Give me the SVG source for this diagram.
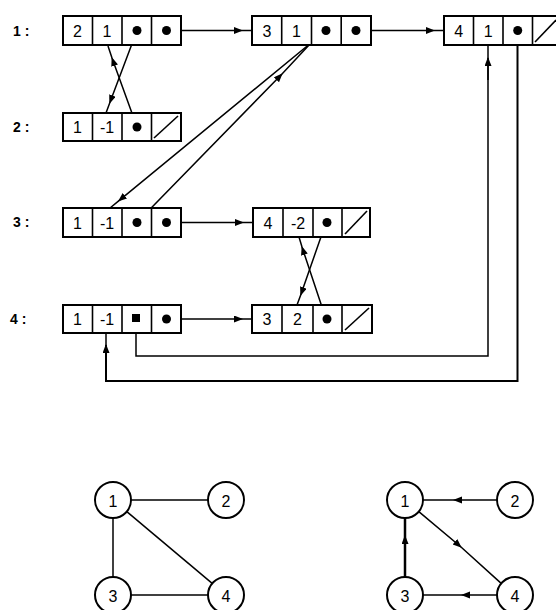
<svg xmlns="http://www.w3.org/2000/svg" width="556" height="610" viewBox="0 0 556 610">
<style>
.box{fill:#fff;stroke:#000;stroke-width:2}
.div{stroke:#000;stroke-width:1.6}
.t{font-family:"Liberation Sans",Arial,sans-serif;font-size:16px;fill:#000;text-anchor:middle;dominant-baseline:central}
.lbl{font-family:"Liberation Sans",Arial,sans-serif;font-size:14px;fill:#000;font-weight:bold}
.dot{fill:#000}
.con{fill:none;stroke:#000;stroke-width:1.5}
.arr{fill:none;stroke:#000;stroke-width:1.5;marker-mid:url(#ah)}
.circ{fill:#fff;stroke:#000;stroke-width:2}
.edge{fill:none;stroke:#000;stroke-width:1.5}
</style>
<defs>
<marker id="ah" markerUnits="userSpaceOnUse" markerWidth="12" markerHeight="10" refX="8" refY="3.5" orient="auto">
<path d="M0,0 L9,3.5 L0,7 Z" fill="#000"/>
</marker>
</defs>

<g id="labels">
<text class="lbl" x="13" y="36">1 :</text>
<text class="lbl" x="13" y="132">2 :</text>
<text class="lbl" x="13" y="227">3 :</text>
<text class="lbl" x="10" y="324">4 :</text>
</g>

<g id="connectors">
<path class="arr" d="M166.5 30.5 L242 30.5 L252 30.5"/>
<path class="arr" d="M356 30.5 L434 30.5 L444 30.5"/>
<path class="arr" d="M137 30.5 L109.7 103 L106 113"/>
<path class="arr" d="M137 127 L112 58 L108 46"/>
<path class="arr" d="M326 30.5 L118.7 200.9 L110 208"/>
<path class="arr" d="M137 222.5 L282 74 L310 44"/>
<path class="arr" d="M166.5 222.5 L243 222.5 L253 222.5"/>
<path class="arr" d="M326 222.5 L300.7 295 L297 305"/>
<path class="arr" d="M326 319 L302 247 L299 237"/>
<path class="arr" d="M166.5 319 L242 319 L252 319"/>
<path class="con" style="stroke-width:2" d="M517.5 30.5 V381 H106 V345"/>
<path class="arr" d="M106 360 L106 345 L106 333"/>
<path class="con" d="M136 319 V356 H488 V58"/>
<path class="arr" d="M488 80 L488 58 L488 46"/>
</g>

<g id="n1a">
<rect class="box" x="63" y="16" width="118" height="29"/>
<path class="div" d="M92.5 16 V45 M122 16 V45 M151.5 16 V45"/>
<text class="t" x="77.5" y="31">2</text>
<text class="t" x="107" y="31">1</text>
<circle class="dot" cx="137" cy="30.5" r="4.5"/>
<circle class="dot" cx="166.5" cy="30.5" r="4.5"/>
</g>
<g id="n1b">
<rect class="box" x="252" y="16" width="119" height="29"/>
<path class="div" d="M281.7 16 V45 M311.5 16 V45 M341.2 16 V45"/>
<text class="t" x="267" y="31">3</text>
<text class="t" x="296.5" y="31">1</text>
<circle class="dot" cx="326" cy="30.5" r="4.5"/>
<circle class="dot" cx="356" cy="30.5" r="4.5"/>
</g>
<g id="n1c">
<rect class="box" x="444" y="16" width="118" height="29"/>
<path class="div" d="M473.5 16 V45 M503 16 V45 M532.5 16 V45"/>
<text class="t" x="458.7" y="31">4</text>
<text class="t" x="488.2" y="31">1</text>
<circle class="dot" cx="517.7" cy="30.5" r="4.5"/>
<line class="div" x1="535" y1="42" x2="556" y2="20"/>
</g>
<g id="n2a">
<rect class="box" x="63" y="113" width="118" height="28"/>
<path class="div" d="M92.5 113 V141 M122 113 V141 M151.5 113 V141"/>
<text class="t" x="77.5" y="127.5">1</text>
<text class="t" x="107" y="127.5">-1</text>
<circle class="dot" cx="137" cy="127" r="4.5"/>
<line class="div" x1="154" y1="138" x2="178" y2="116"/>
</g>
<g id="n3a">
<rect class="box" x="63" y="208" width="118" height="29"/>
<path class="div" d="M92.5 208 V237 M122 208 V237 M151.5 208 V237"/>
<text class="t" x="77.5" y="223">1</text>
<text class="t" x="107" y="223">-1</text>
<circle class="dot" cx="137" cy="222.5" r="4.5"/>
<circle class="dot" cx="166.5" cy="222.5" r="4.5"/>
</g>
<g id="n3b">
<rect class="box" x="253" y="208" width="117" height="29"/>
<path class="div" d="M283 208 V237 M313 208 V237 M342 208 V237"/>
<text class="t" x="268" y="223">4</text>
<text class="t" x="298" y="223">-2</text>
<circle class="dot" cx="327" cy="222.5" r="4.5"/>
<line class="div" x1="345" y1="234" x2="367" y2="211"/>
</g>
<g id="n4a">
<rect class="box" x="63" y="305" width="118" height="28"/>
<path class="div" d="M92.5 305 V333 M122 305 V333 M151.5 305 V333"/>
<text class="t" x="77.5" y="319.5">1</text>
<text class="t" x="107" y="319.5">-1</text>
<rect class="dot" x="132" y="314" width="8" height="8"/>
<circle class="dot" cx="166.5" cy="319" r="4.5"/>
</g>
<g id="n4b">
<rect class="box" x="252" y="305" width="120" height="28"/>
<path class="div" d="M282 305 V333 M313 305 V333 M342 305 V333"/>
<text class="t" x="267" y="319.5">3</text>
<text class="t" x="297.5" y="319.5">2</text>
<circle class="dot" cx="327" cy="319" r="4.5"/>
<line class="div" x1="345" y1="330" x2="369" y2="308"/>
</g>

<g id="graph-left-edges">
<line class="edge" x1="131" y1="500" x2="208" y2="500"/>
<line class="edge" x1="113" y1="518" x2="113" y2="577"/>
<line class="edge" x1="126.8" y1="511.6" x2="212.2" y2="583.4"/>
<line class="edge" x1="131" y1="595" x2="208" y2="595"/>
</g>
<g id="gL1"><circle class="circ" cx="113" cy="500" r="18"/><text class="t" x="113" y="501">1</text></g>
<g id="gL2"><circle class="circ" cx="226" cy="500" r="18"/><text class="t" x="226" y="501">2</text></g>
<g id="gL3"><circle class="circ" cx="113" cy="595" r="18"/><text class="t" x="113" y="596">3</text></g>
<g id="gL4"><circle class="circ" cx="226" cy="595" r="18"/><text class="t" x="226" y="596">4</text></g>

<g id="graph-right-edges">
<path class="arr" d="M497 500 L454 500 L423 500"/>
<path class="arr" style="stroke-width:2.5" d="M405 577 L405 536 L405 518"/>
<path class="arr" d="M418.8 511.6 L461 547 L501.2 583.4"/>
<path class="arr" d="M497 595 L462 595 L423 595"/>
</g>
<g id="gR1"><circle class="circ" cx="405" cy="500" r="18"/><text class="t" x="405" y="501">1</text></g>
<g id="gR2"><circle class="circ" cx="515" cy="500" r="18"/><text class="t" x="515" y="501">2</text></g>
<g id="gR3"><circle class="circ" cx="405" cy="595" r="18"/><text class="t" x="405" y="596">3</text></g>
<g id="gR4"><circle class="circ" cx="515" cy="595" r="18"/><text class="t" x="515" y="596">4</text></g>
</svg>
